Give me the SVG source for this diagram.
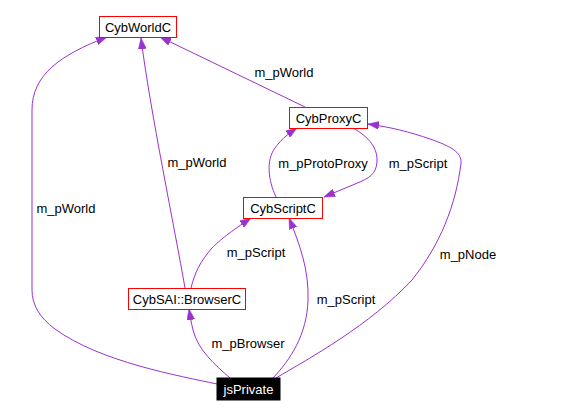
<svg xmlns="http://www.w3.org/2000/svg" width="583" height="417" viewBox="0 0 583 417">
<style>
  .node rect { fill: #ffffff; stroke: #ff0000; stroke-width: 1; }
  .node text { font-family: "Liberation Sans", Arial, sans-serif; font-size: 13px; fill: #000000; text-anchor: middle; }
  .edge { fill: none; stroke: #9a32cd; stroke-width: 1; marker-end: url(#arr); }
  .lbl { font-family: "Liberation Sans", Arial, sans-serif; font-size: 13px; fill: #000000; text-anchor: middle; }
  #jsPrivate rect { fill: #000000; stroke: #000000; }
  #jsPrivate text { fill: #ffffff; }
</style>
<defs>
  <marker id="arr" viewBox="0 0 11 8" refX="11" refY="4" markerWidth="11" markerHeight="8" markerUnits="userSpaceOnUse" orient="auto">
    <path d="M0,0 L11,4 L0,8 z" fill="#9a32cd" stroke="#9a32cd" stroke-width="0.5"/>
  </marker>
</defs>
<rect width="583" height="417" fill="#ffffff"/>
<g id="connectors">
  <path class="edge" d="M217,384 C180,376 100,362 55,329 C40,318 32,305 32,290 L32,110 C32,75 60,55 107,37"/>
  <path class="edge" d="M185,288 C175,230 150,110 141,38"/>
  <path class="edge" d="M305,107 L160,37"/>
  <path class="edge" d="M276,197 C268,180 266,160 275,148 C280,141 285,136 297,128"/>
  <path class="edge" d="M353,128 C365,135 378,145 377,162 C376,174 370,178 355,184 L324,197"/>
  <path class="edge" d="M273,378 C290,360 307,335 308,300 C309,270 300,245 289,218"/>
  <path class="edge" d="M276,378 C310,358 370,325 412,280 C440,245 456,205 461,163 C462,152 450,146 430,139 C410,132 390,127 368,124"/>
  <path class="edge" d="M230,378 C215,365 198,350 193,330 C191,322 190,315 189,309"/>
  <path class="edge" d="M191,288 C195,272 200,262 212,248 C220,240 230,232 251,218"/>
  <text class="lbl" x="66" y="213">m_pWorld</text>
  <text class="lbl" x="197" y="167">m_pWorld</text>
  <text class="lbl" x="284" y="77">m_pWorld</text>
  <text class="lbl" x="323" y="168">m_pProtoProxy</text>
  <text class="lbl" x="418" y="168">m_pScript</text>
  <text class="lbl" x="256" y="257">m_pScript</text>
  <text class="lbl" x="346" y="304">m_pScript</text>
  <text class="lbl" x="468" y="259">m_pNode</text>
  <text class="lbl" x="248" y="348">m_pBrowser</text>
</g>
<g id="CybWorldC" class="node">
  <rect x="99.5" y="16.5" width="77" height="21"/>
  <text x="138" y="32">CybWorldC</text>
</g>
<g id="CybProxyC" class="node">
  <rect x="289.5" y="107.5" width="78" height="21"/>
  <text x="328.5" y="123">CybProxyC</text>
</g>
<g id="CybScriptC" class="node">
  <rect x="243.5" y="197.5" width="79" height="21"/>
  <text x="283" y="213">CybScriptC</text>
</g>
<g id="CybSAI_BrowserC" class="node">
  <rect x="128.5" y="288.5" width="117" height="21"/>
  <text x="187" y="304">CybSAI::BrowserC</text>
</g>
<g id="jsPrivate" class="node">
  <rect x="217" y="378" width="63" height="22"/>
  <text x="248.5" y="394">jsPrivate</text>
</g>
</svg>
